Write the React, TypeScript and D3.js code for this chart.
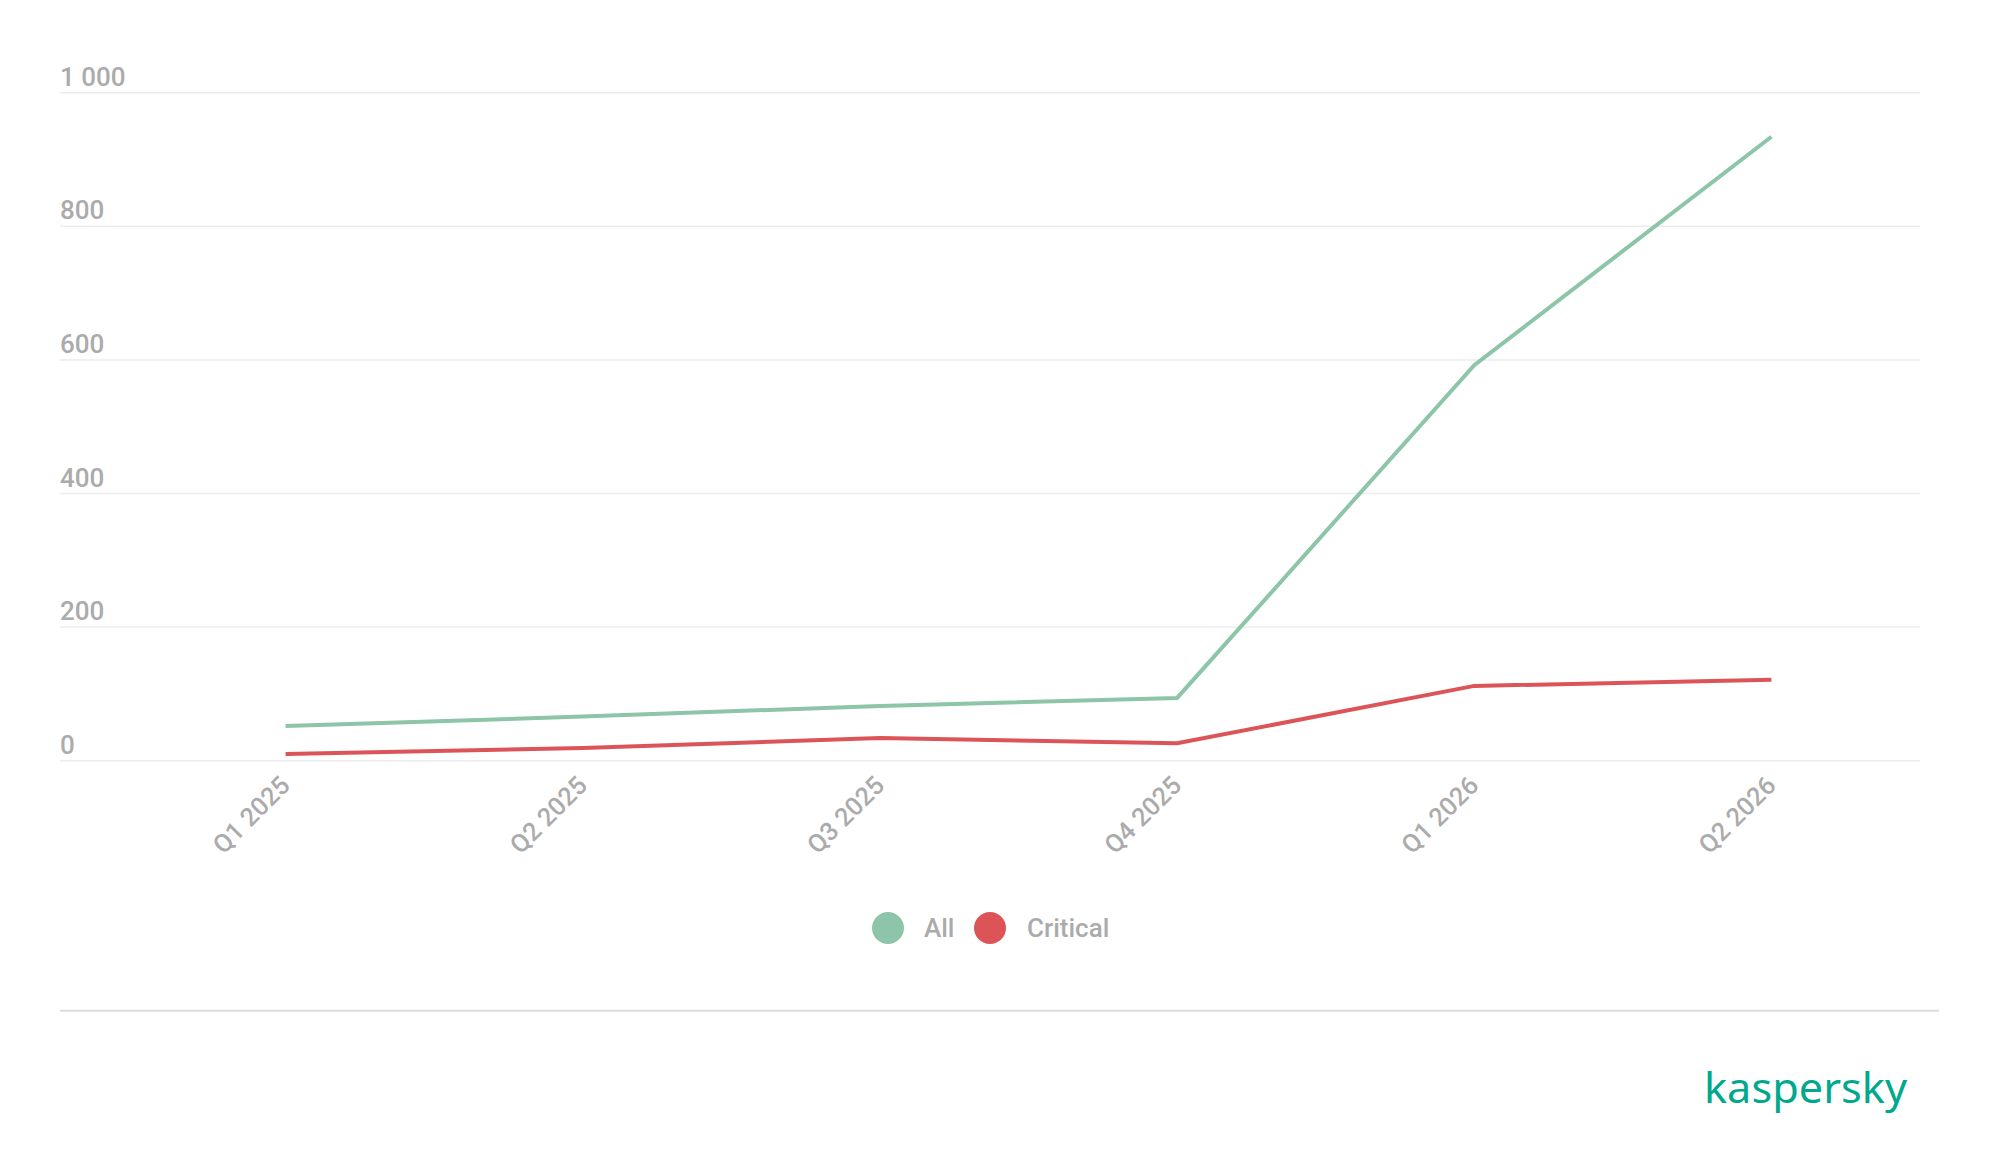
import React from "react";
import * as d3 from "d3";

const categories = ["Q1 2025", "Q2 2025", "Q3 2025", "Q4 2025", "Q1 2026", "Q2 2026"];
const allValues = [52, 66, 82, 94, 592, 934];
const criticalValues = [10, 19, 34, 26, 112, 121];
const yTicks = [0, 200, 400, 600, 800, 1000];
const seriesNames = ["All", "Critical"];
const seriesColors = ["#8cc5a8", "#dd5458"];

const W = 2000;
const H = 1174;
const FONT = "Roboto, 'Noto Sans', sans-serif";
const GRAY = "#ababab";

export default function App() {
  const x = d3.scaleBand<string>().domain(categories).range([137, 1920]).padding(0);
  const y = d3.scaleLinear().domain([0, 1000]).range([760.7, 92.7]);
  const cx = (c: string) => (x(c) as number) + x.bandwidth() / 2;

  const line = d3
    .line<number>()
    .x((_, i) => cx(categories[i]))
    .y((v) => y(v));

  const fmt = (v: number) => d3.format(",")(v).replace(/,/g, " ");

  const series = [allValues, criticalValues];

  return (
    <svg
      width={W}
      height={H}
      viewBox={`0 0 ${W} ${H}`}
      style={{ position: "absolute", left: 0, top: 0, background: "#fff" }}
    >
      {/* gridlines and y labels */}
      {yTicks.map((t) => (
        <g key={t}>
          <line x1={60} x2={1920} y1={y(t)} y2={y(t)} stroke="#ececec" strokeWidth={1.5} />
          <text x={60} y={y(t) - 7} fontFamily={FONT} fontWeight={500} fontSize={26} fill={GRAY}>
            {fmt(t)}
          </text>
        </g>
      ))}

      {/* x labels */}
      {categories.map((c) => (
        <text
          key={c}
          transform={`translate(${cx(c) + 6},${787}) rotate(-45)`}
          textAnchor="end"
          fontFamily={FONT}
          fontWeight={500}
          fontSize={25.5}
          fill={GRAY}
        >
          {c}
        </text>
      ))}

      {/* lines */}
      {series.map((s, i) => (
        <path
          key={i}
          d={line(s) as string}
          fill="none"
          stroke={seriesColors[i]}
          strokeWidth={4}
          strokeLinejoin="miter"
        />
      ))}

      {/* legend */}
      <g>
        <circle cx={888} cy={928} r={16} fill={seriesColors[0]} />
        <text x={924} y={936.5} fontFamily={FONT} fontWeight={500} fontSize={26} fill={GRAY}>
          {seriesNames[0]}
        </text>
        <circle cx={990} cy={928} r={16} fill={seriesColors[1]} />
        <text x={1027} y={936.5} fontFamily={FONT} fontWeight={500} fontSize={26} fill={GRAY}>
          {seriesNames[1]}
        </text>
      </g>

      {/* bottom separator */}
      <line x1={60} x2={1939} y1={1010.7} y2={1010.7} stroke="#dcdcdc" strokeWidth={2} />

      {/* logo */}
      <text
        x={1704}
        y={1103}
        fontFamily="'Noto Sans', sans-serif"
        fontWeight={400}
        fontSize={42}
        fill="#00a88e"
        textLength={203}
        lengthAdjust="spacingAndGlyphs"
      >
        kaspersky
      </text>
    </svg>
  );
}
